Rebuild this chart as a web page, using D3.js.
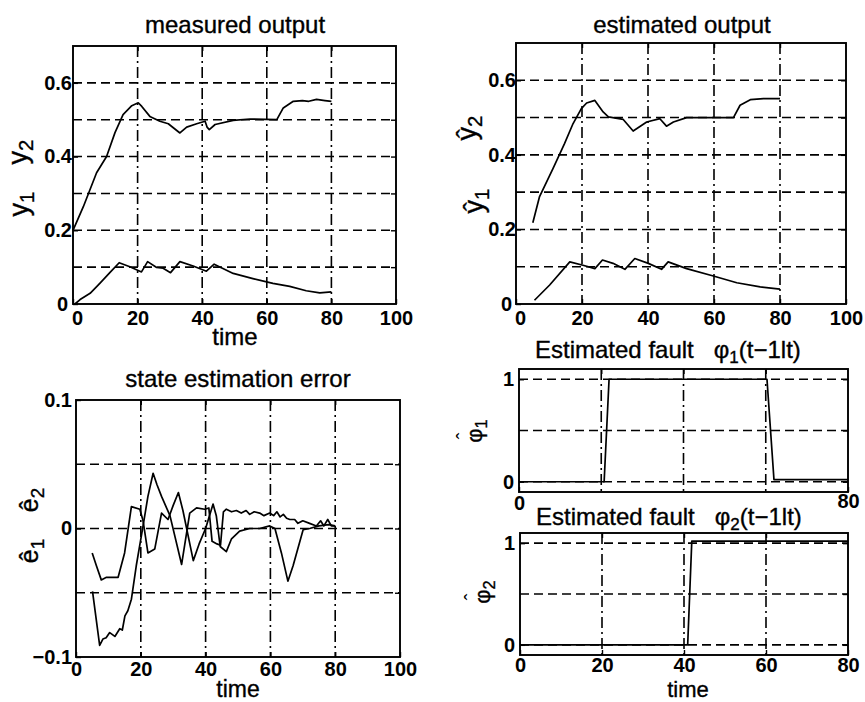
<!DOCTYPE html>
<html>
<head>
<meta charset="utf-8">
<script src="https://cdn.jsdelivr.net/npm/d3@7"></script>
<style>
  body { margin: 0; background: #fff; }
  svg { font-family: "Liberation Sans", Arial, Helvetica, sans-serif; }
  .tick text { font-weight: bold; font-size: 20px; fill: #000; }
</style>
</head>
<body>
<div id="chart"></div>
<script>
// ---- data ----
const measuredY2 = [[0,0.2],[3.2,0.264],[7.3,0.356],[10.4,0.4],[13,0.465],[15.5,0.514],[18.2,0.538],[20.2,0.546],[21.3,0.536],[23.8,0.509],[26.9,0.496],[29.5,0.489],[33.1,0.464],[35.2,0.48],[38.3,0.489],[40.9,0.496],[41.5,0.48],[42.2,0.473],[44,0.487],[49.6,0.498],[54.8,0.502],[63.1,0.5],[65.1,0.532],[68.2,0.55],[71,0.552],[73,0.55],[75.4,0.555],[78,0.552],[80,0.55]];
const measuredY1 = [[0.6,0],[2.2,0.012],[5.3,0.029],[8.3,0.056],[11.4,0.085],[14.3,0.112],[17.6,0.101],[21.2,0.087],[23.1,0.115],[25.9,0.099],[27.9,0.097],[30.2,0.085],[33.1,0.115],[37.2,0.103],[41.3,0.089],[43.7,0.108],[49.6,0.083],[55.7,0.069],[61.9,0.056],[67.1,0.048],[72.2,0.036],[76.4,0.03],[80,0.033]];

const estimatedY2 = [[5.1,0.218],[7.1,0.287],[11.2,0.363],[14.7,0.43],[17.3,0.484],[19.8,0.524],[21.4,0.539],[23.9,0.546],[26.4,0.515],[28,0.502],[32.5,0.495],[35.5,0.464],[39.6,0.488],[43.6,0.497],[45.6,0.477],[47.7,0.488],[51.7,0.5],[65.9,0.5],[67.9,0.533],[71,0.548],[75,0.551],[80,0.551]];
const estimatedY1 = [[5.6,0.01],[10.2,0.051],[16.3,0.113],[20.3,0.104],[23.9,0.095],[26.2,0.118],[29.4,0.109],[33,0.093],[36,0.122],[40.1,0.109],[44.1,0.093],[46.1,0.113],[51.7,0.095],[59.8,0.075],[66.9,0.057],[74,0.046],[80,0.04]];

const errA = [[5,-0.019],[6.3,-0.029],[7.8,-0.04],[9.4,-0.038],[13,-0.038],[15,-0.019],[17.1,0.017],[19.7,0.015],[20.7,0.006],[22.2,-0.019],[24.3,-0.016],[26.4,0.012],[28.4,0.007],[30,0.018],[31.6,0.028],[33,0.014],[36.2,-0.025],[38,-0.012],[40,0.0],[42.3,0.019],[43.3,0.01],[44.5,-0.014],[46.4,-0.018],[48,-0.008],[50.5,-0.002],[53.6,0.0],[56.7,0.0],[59.8,0.002],[61.4,0.0],[63.4,-0.019],[65.4,-0.041],[67,-0.029],[70.1,-0.001],[72.1,0.0],[75,0.002],[78,0.003],[80,0.002]];
const errB = [[5.1,-0.049],[7.3,-0.091],[8.3,-0.086],[9.3,-0.085],[10.4,-0.081],[12,-0.084],[13.5,-0.078],[14.3,-0.079],[15.1,-0.068],[16,-0.064],[17.1,-0.055],[18.6,-0.029],[20.7,0.002],[22.2,0.025],[23.8,0.043],[25,0.034],[26.4,0.025],[29,0.01],[32.6,-0.028],[35.1,0.012],[37.2,0.016],[39.7,0.015],[41,0.016],[42,-0.01],[43.5,-0.012],[44.6,-0.013],[45.5,0.013],[46.4,0.015],[48,0.013],[49.5,0.014],[51,0.012],[52.5,0.014],[53.6,0.011],[55,0.013],[56.7,0.012],[58,0.01],[59.8,0.012],[61,0.01],[62,0.013],[63,0.009],[64,0.011],[65,0.008],[66,0.007],[67.5,0.007],[68.5,0.004],[70,0.006],[72.1,0.004],[74.2,0.002],[75.5,0.006],[76.5,0.002],[77.7,0.007],[78.8,0.002],[80,0.002]];

const phi1 = [[1,0],[20.7,0],[21.9,1],[60.3,1],[62,0.02],[80,0.02]];
const phi2 = [[0,0],[40.9,0],[41.9,1.02],[80,1.02]];

// tick values
const timeTicks = [0, 20, 40, 60, 80, 100];
const timeGrid = [20, 40, 60, 80];
const outTicks = [0, 0.2, 0.4, 0.6];
const outGrid = [0.1, 0.2, 0.3, 0.4, 0.5, 0.6];
const errTicks = [-0.1, 0, 0.1];
const errGrid = [-0.05, 0, 0.05];
const faultTicks = [0, 1];
const faultGrid = [0, 0.5, 1];

const width = 865;
const height = 702;

const svg = d3.select('#chart')
  .append('svg')
  .attr('width', width)
  .attr('height', height);

function fmt(d) {
  if (d === 0) return '0';
  return String(d).replace('-', '\u2212');
}

// one MATLAB-like axes box
function drawPanel(p) {
  const x = d3.scaleLinear().domain(p.xDomain).range([p.left, p.right]);
  const y = d3.scaleLinear().domain(p.yDomain).range([p.bottom, p.top]);
  const g = svg.append('g');

  // grid
  g.selectAll('line.vgrid')
    .data(p.xGrid)
    .enter()
    .append('line')
    .attr('x1', d => x(d)).attr('x2', d => x(d))
    .attr('y1', p.top).attr('y2', p.bottom)
    .attr('stroke', '#000')
    .attr('stroke-width', 1.6)
    .attr('stroke-dasharray', '11,4,2,4');
  g.selectAll('line.hgrid')
    .data(p.yGrid)
    .enter()
    .append('line')
    .attr('x1', p.left).attr('x2', p.right)
    .attr('y1', d => y(d)).attr('y2', d => y(d))
    .attr('stroke', '#000')
    .attr('stroke-width', 1.6)
    .attr('stroke-dasharray', '9,5');

  // axes (inward ticks on all four sides)
  const bottomAx = g.append('g')
    .attr('transform', `translate(0,${p.bottom})`)
    .call(d3.axisBottom(x).tickValues(p.xTicks).tickSize(-5).tickPadding(p.xPad).tickFormat(fmt));
  g.append('g')
    .attr('transform', `translate(0,${p.top})`)
    .call(d3.axisTop(x).tickValues(p.xTickMarks).tickSize(-5).tickFormat(''));
  const leftAx = g.append('g')
    .attr('transform', `translate(${p.left},0)`)
    .call(d3.axisLeft(y).tickValues(p.yTicks).tickSize(-5).tickPadding(p.yPad).tickFormat(fmt));
  g.append('g')
    .attr('transform', `translate(${p.right},0)`)
    .call(d3.axisRight(y).tickValues(p.yGrid).tickSize(-5).tickFormat(''));
  g.selectAll('.domain').remove();
  g.selectAll('.tick line').attr('stroke', '#000').attr('stroke-width', 1.4);
  if (p.xTickLift) {
    bottomAx.selectAll('.tick text')
      .attr('y', d => (d === p.xDomain[1] ? p.xPad - 2 : p.xPad));
  }
  if (p.cornerShift) {
    // keep the two corner zeros apart, as in the figure
    bottomAx.selectAll('.tick text').attr('dx', d => (d === 0 ? p.cornerShift : 0));
    leftAx.selectAll('.tick text').attr('dx', d => (d === 0 ? -p.cornerShift : 0));
  }
  g.selectAll('.tick text').attr('fill', '#000');

  // frame
  g.append('rect')
    .attr('x', p.left).attr('y', p.top)
    .attr('width', p.right - p.left)
    .attr('height', p.bottom - p.top)
    .attr('fill', 'none')
    .attr('stroke', '#000')
    .attr('stroke-width', 1.9);

  const line = d3.line()
    .x(d => x(d[0]))
    .y(d => y(d[1]));

  p.series.forEach(s => {
    g.append('path')
      .datum(s)
      .attr('fill', 'none')
      .attr('stroke', '#000')
      .attr('stroke-width', 1.7)
      .attr('stroke-linejoin', 'round')
      .attr('d', line);
  });
  return g;
}

drawPanel({
  left: 73, right: 396, top: 46, bottom: 304,
  xDomain: [0, 100], yDomain: [0, 0.7],
  xTicks: timeTicks, xTickMarks: timeGrid, xGrid: timeGrid, xPad: 7,
  yTicks: outTicks, yGrid: outGrid, yPad: 1, cornerShift: 4,
  series: [measuredY2, measuredY1],
});

drawPanel({
  left: 516, right: 846, top: 43, bottom: 304,
  xDomain: [0, 100], yDomain: [0, 0.7],
  xTicks: timeTicks, xTickMarks: timeGrid, xGrid: timeGrid, xPad: 7,
  yTicks: outTicks, yGrid: outGrid, yPad: 0, cornerShift: 4,
  series: [estimatedY2, estimatedY1],
});

drawPanel({
  left: 76, right: 400, top: 400, bottom: 657,
  xDomain: [0, 100], yDomain: [-0.1, 0.1],
  xTicks: timeTicks, xTickMarks: timeGrid, xGrid: timeGrid, xPad: 5,
  yTicks: errTicks, yGrid: errGrid, yPad: 4,
  series: [errA, errB],
});

drawPanel({
  left: 519, right: 848, top: 369, bottom: 492,
  xDomain: [0, 80], yDomain: [-0.1, 1.1],
  xTicks: [0, 80], xTickMarks: [20, 40, 60], xGrid: [20, 40, 60], xPad: 4, xTickLift: true,
  yTicks: faultTicks, yGrid: faultGrid, yPad: 5,
  series: [phi1],
});

drawPanel({
  left: 520, right: 848, top: 533, bottom: 655,
  xDomain: [0, 80], yDomain: [-0.1, 1.1],
  xTicks: [0, 20, 40, 60, 80], xTickMarks: [20, 40, 60], xGrid: [20, 40, 60], xPad: 3,
  yTicks: faultTicks, yGrid: faultGrid, yPad: 5,
  series: [phi2],
});

// ---- titles and labels ----
function label(xp, yp, size, anchor) {
  return svg.append('text')
    .attr('x', xp).attr('y', yp)
    .attr('font-size', size)
    .attr('text-anchor', anchor || 'middle')
    .attr('fill', '#000')
    .attr('stroke', '#000')
    .attr('stroke-width', 0.35);
}

label(235, 33, 24).text('measured output');
label(682, 33, 24).text('estimated output');
label(238, 387, 24).text('state estimation error');
label(235, 345, 24).text('time');
label(238, 697, 23).text('time');
label(688, 697, 22).text('time');

function faultTitle(xp, yp, idx) {
  const t = label(xp, yp, 24, 'start');
  t.append('tspan').text('Estimated fault\u00A0\u00A0\u00A0\u03C6');
  t.append('tspan').attr('font-size', 17).attr('dy', 5).text(idx);
  t.append('tspan').attr('dy', -5).text('(t\u22121lt)');
}
faultTitle(535, 358, '1');
faultTitle(536, 525, '2');

// rotated y labels
function rotLabel(xp, yp, base, sub, size, hat) {
  const g = svg.append('g').attr('transform', `translate(${xp},${yp}) rotate(-90)`);
  const t = g.append('text')
    .attr('text-anchor', 'middle')
    .attr('font-size', size)
    .attr('fill', '#000')
    .attr('stroke', '#000')
    .attr('stroke-width', 0.35);
  t.append('tspan').text(base);
  t.append('tspan').attr('font-size', size * 0.75).attr('dy', size * 0.22).text(sub);
  if (hat) {
    g.append('text')
      .attr('x', -size * 0.22)
      .attr('y', -size * 0.5)
      .attr('text-anchor', 'middle')
      .attr('font-size', size * 0.9)
      .attr('fill', '#000')
      .text('\u02C6');
  }
}

rotLabel(28, 204, 'y', '1', 27);
rotLabel(27, 152, 'y', '2', 27);
rotLabel(483, 201, '\u0177', '1', 27);
rotLabel(476, 128, '\u0177', '2', 27);
rotLabel(38, 551, '\u00EA', '1', 25);
rotLabel(38, 500, '\u00EA', '2', 25);
rotLabel(482, 431, '\u03C6', '1', 22, true);
rotLabel(490, 592, '\u03C6', '2', 22, true);
</script>
</body>
</html>
